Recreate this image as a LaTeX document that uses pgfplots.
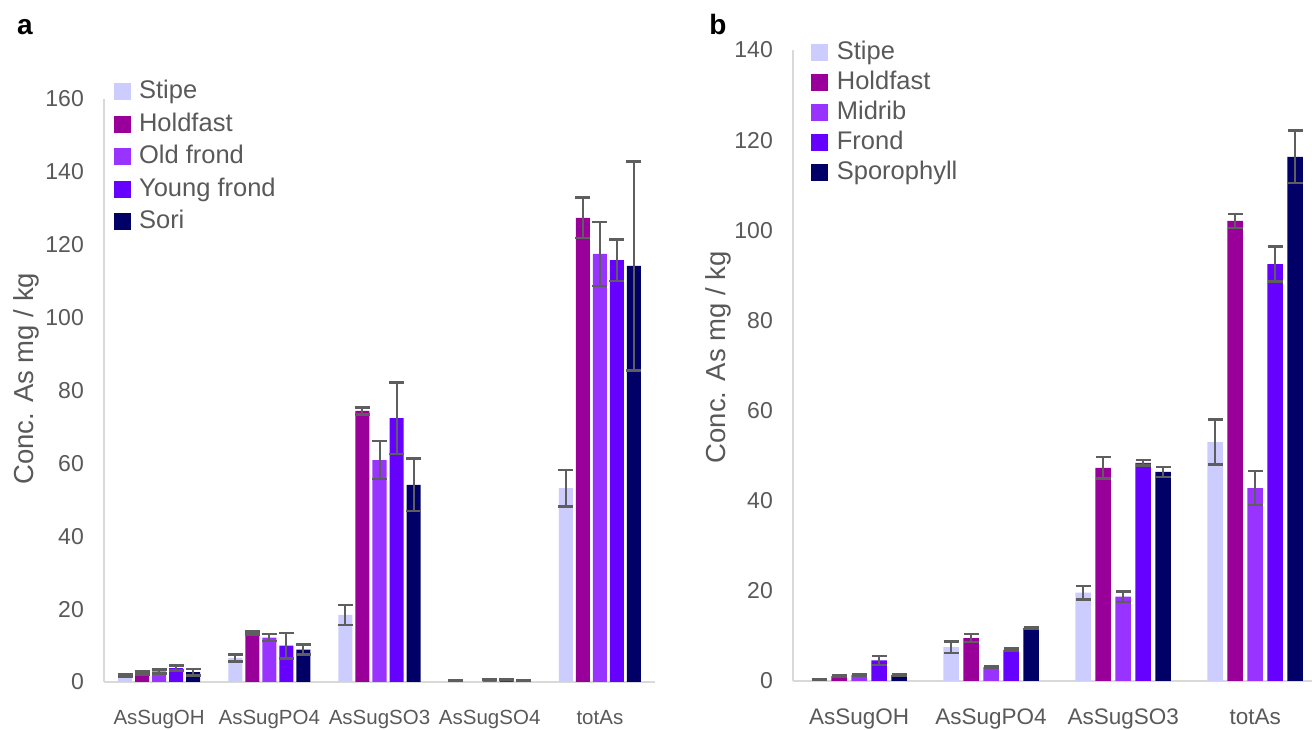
\documentclass[border=0pt]{standalone}
\usepackage{fontspec}
\setmainfont{Liberation Sans}
\usepackage{pgfplots}
\pgfplotsset{compat=1.18}

\definecolor{stipe}{HTML}{CCCCFF}
\definecolor{holdfast}{HTML}{990099}
\definecolor{oldfrond}{HTML}{9933FF}
\definecolor{youngfrond}{HTML}{6600FF}
\definecolor{sori}{HTML}{000066}
\definecolor{txt}{HTML}{595959}
\definecolor{axgray}{HTML}{D9D9D9}
\definecolor{errgray}{HTML}{5E5E5E}

\pgfplotsset{
  kelp/.style={
    ybar, scale only axis,
    axis x line*=bottom, axis y line*=left,
    axis line style={axgray, line width=2pt, -},
    major tick length=0pt,
    ymin=0,
    /pgf/number format/assume math mode=true,
    tick label style={txt},
    yticklabel style={font=\fontsize{23}{23}\selectfont, anchor=east, inner sep=0pt, xshift=-20pt},
    xticklabel style={anchor=north, inner sep=0pt, yshift=-28pt},
    ylabel={Conc. As mg / kg},
    ylabel style={font=\fontsize{27.5}{27.5}\selectfont, txt, anchor=center},
    legend style={draw=none, fill=none, anchor=north west, inner sep=0pt,
      font=\fontsize{25.5}{25.5}\selectfont, text=txt,
      nodes={text height=19pt, text depth=5pt, inner sep=1.5pt}},
    legend cell align=left,
    legend image code/.code={\fill[##1] (0pt,-8.5pt) rectangle (17pt,8.5pt);
      \path (24pt,0pt);},
  },
  err/.style={error bars/.cd, y dir=both, y explicit,
    error bar style={errgray, line width=2pt},
    error mark options={errgray, rotate=90, mark size=7.5pt, line width=2.5pt}},
}

\begin{document}
\begin{tikzpicture}
\path[use as bounding box] (0,0) rectangle (1312pt,730pt);

\node[font=\bfseries\fontsize{28}{28}\selectfont] at (25pt,703pt) {a};
\node[font=\bfseries\fontsize{28}{28}\selectfont] at (718pt,705pt) {b};

% panel a
\begin{axis}[kelp,
  at={(104pt,48pt)}, anchor=south west,
  width=551pt, height=583pt,
  xmin=-0.5, xmax=4.5, ymax=160,
  xtick={0,1,2,3,4},
  xticklabels={AsSugOH, AsSugPO4, AsSugSO3, AsSugSO4, totAs},
  xticklabel style={font=\fontsize{20.5}{20.5}\selectfont},
  ytick={0,20,...,160},
  ylabel style={at={(axis description cs:-0.14,0.52)}},
  legend style={at={(0.017,1.036)}, row sep=5.5pt},
  bar width=14pt,
]
\addplot[fill=stipe, draw=none, bar shift=-34pt, err] coordinates {
  (0,1.7) +- (0,0.3) (1,6.6) +- (0,1.0) (2,18.4) +- (0,2.7) (3,0.3) +- (0,0.05) (4,53.2) +- (0,5.0)};
\addplot[fill=holdfast, draw=none, bar shift=-17pt, err] coordinates {
  (0,2.5) +- (0,0.4) (1,13.5) +- (0,0.4) (2,74.4) +- (0,1.0) (4,127.4) +- (0,5.6)};
\addplot[fill=oldfrond, draw=none, bar shift=0pt, err] coordinates {
  (0,2.9) +- (0,0.5) (1,12.2) +- (0,1.0) (2,60.9) +- (0,5.2) (3,0.6) +- (0,0.05) (4,117.5) +- (0,8.8)};
\addplot[fill=youngfrond, draw=none, bar shift=17pt, err] coordinates {
  (0,3.8) +- (0,0.7) (1,10.0) +- (0,3.5) (2,72.4) +- (0,9.8) (3,0.7) +- (0,0.05) (4,115.8) +- (0,5.7)};
\addplot[fill=sori, draw=none, bar shift=34pt, err] coordinates {
  (0,2.7) +- (0,0.9) (1,8.9) +- (0,1.4) (2,54.1) +- (0,7.2) (3,0.5) +- (0,0.05) (4,114.2) +- (0,28.7)};
\legend{Stipe, Holdfast, Old frond, Young frond, Sori}
\end{axis}

% panel b
\begin{axis}[kelp,
  at={(793pt,49pt)}, anchor=south west,
  width=519pt, height=631pt,
  xmin=-0.5, xmax=3.43, ymax=140,
  xtick={0,1,2,3},
  xticklabels={AsSugOH, AsSugPO4, AsSugSO3, totAs},
  xticklabel style={font=\fontsize{22.5}{22.5}\selectfont},
  ytick={0,20,...,140},
  ylabel style={at={(axis description cs:-0.1445,0.513)}},
  legend style={at={(0.035,1.018)}, row sep=3pt},
  bar width=15.5pt,
]
\addplot[fill=stipe, draw=none, bar shift=-40pt, err] coordinates {
  (0,0.3) +- (0,0.1) (1,7.5) +- (0,1.3) (2,19.6) +- (0,1.5) (3,53.0) +- (0,5.0)};
\addplot[fill=holdfast, draw=none, bar shift=-20pt, err] coordinates {
  (0,1.1) +- (0,0.2) (1,9.5) +- (0,0.9) (2,47.3) +- (0,2.4) (3,102.1) +- (0,1.55)};
\addplot[fill=oldfrond, draw=none, bar shift=0pt, err] coordinates {
  (0,1.3) +- (0,0.2) (1,3.1) +- (0,0.2) (2,18.7) +- (0,1.2) (3,42.8) +- (0,3.8)};
\addplot[fill=youngfrond, draw=none, bar shift=20pt, err] coordinates {
  (0,4.6) +- (0,1.0) (1,6.9) +- (0,0.3) (2,48.4) +- (0,0.6) (3,92.5) +- (0,3.9)};
\addplot[fill=sori, draw=none, bar shift=40pt, err] coordinates {
  (0,1.3) +- (0,0.2) (1,11.8) +- (0,0.2) (2,46.4) +- (0,1.1) (3,116.3) +- (0,5.8)};
\legend{Stipe, Holdfast, Midrib, Frond, Sporophyll}
\end{axis}
\end{tikzpicture}
\end{document}
